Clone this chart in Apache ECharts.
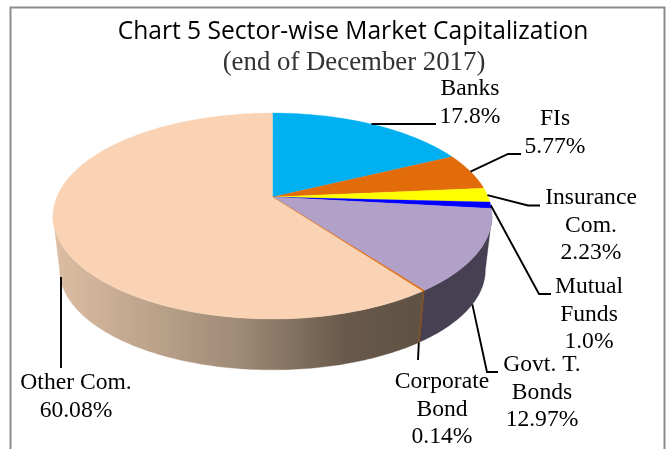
<!DOCTYPE html>
<html>
<head>
<meta charset="utf-8">
<style>
html, body { margin: 0; padding: 0; background: #fff; }
#myChart { width: 670px; height: 449px; }
</style>
<script src="https://cdn.jsdelivr.net/npm/echarts@6/dist/echarts.min.js"></script>
</head>
<body>
<div id="myChart"></div>
<script>
var titleMain = 'Chart 5 Sector-wise Market Capitalization';
var titleSub = '(end of December 2017)';
var sectors = ['Banks', 'FIs', 'Insurance Com.', 'Mutual Funds', 'Govt. T. Bonds', 'Corporate Bond', 'Other Com.'];
var shares = [17.8, 5.77, 2.23, 1.0, 12.97, 0.14, 60.08];
var shareLabels = ['17.8%', '5.77%', '2.23%', '1.0%', '12.97%', '0.14%', '60.08%'];

var topColors = ['#00B0F0', '#E26B0A', '#FFFF00', '#0000FF', '#B1A0C7', '#E26B0A', '#FAD3B4'];

// label lines, centre x, first line y, and leader line for each slice
var labelLayout = [
    { lines: ['Banks'], x: 470, y: 89, leader: [[436, 124]], rim: 'top' },
    { lines: ['FIs'], x: 555, y: 119, leader: [[508, 154], [521, 154]], rim: 'top' },
    { lines: ['Insurance', 'Com.'], x: 591, y: 198, leader: [[528, 205.5], [540, 205.5]], rim: 'top' },
    { lines: ['Mutual', 'Funds'], x: 589, y: 287, leader: [[539, 294], [551, 294]], rim: 'top' },
    { lines: ['Govt. T.', 'Bonds'], x: 542, y: 365, leader: [[487, 372], [498, 372]], rim: 'bottom' },
    { lines: ['Corporate', 'Bond'], x: 442, y: 382, leader: [[418, 360]], rim: 'bottom' },
    { lines: ['Other Com.'], x: 76, y: 383, leader: [[61, 277], [61, 368]] }
];

// pie geometry, a tilted circle with a little perspective
var cx = 272.5, cy = 197;
var radX = 215.7, radY = 99.5, persp = 0.1845;
var wallDrop = 54.5, wallScale = 0.97;
// the wall only shows between the two widest points of the rim
var wallFrom = Math.acos(-persp), wallTo = Math.PI * 2 - wallFrom;

var total = shares.reduce(function (a, b) { return a + b; }, 0);

function rimPoint(theta, bottom) {
    var u = Math.sin(theta), v = -Math.cos(theta);
    var d = 1 - persp * v;
    var x = radX * u / d, y = radY * v / d;
    if (bottom) {
        return [cx + x * wallScale, cy + wallDrop + y * wallScale];
    }
    return [cx + x, cy + y];
}

function arcPoints(a0, a1, bottom) {
    var n = Math.max(2, Math.ceil((a1 - a0) * 60));
    var pts = [];
    for (var j = 0; j <= n; j++) {
        pts.push(rimPoint(a0 + (a1 - a0) * j / n, bottom));
    }
    return pts;
}

function wallFill(i) {
    if (i == 6) {
        return {
            type: 'linear', x: 53, y: 0, x2: 420, y2: 0, global: true,
            colorStops: [
                { offset: 0, color: '#DCBEA3' },
                { offset: 0.5, color: '#A08B77' },
                { offset: 0.8, color: '#68594A' },
                { offset: 1, color: '#5F5244' }
            ]
        };
    }
    if (i == 5) return '#7A4A20';
    return '#474053';
}

function renderSlice(params, api) {
    var i = params.dataIndex;
    var before = 0;
    for (var k = 0; k < i; k++) before += shares[k];
    var a0 = before / total * Math.PI * 2;
    var a1 = (before + api.value(0)) / total * Math.PI * 2;
    var children = [];
    // side wall
    var w0 = Math.max(a0, wallFrom), w1 = Math.min(a1, wallTo);
    if (w1 > w0) {
        var fill = wallFill(i);
        children.push({
            type: 'polygon',
            z2: 1 + i,
            shape: { points: arcPoints(w0, w1).concat(arcPoints(w0, w1, true).reverse()) },
            style: { fill: fill, stroke: fill, lineWidth: i == 5 ? 0.8 : 0.3 }
        });
    }
    // top face
    children.push({
        type: 'polygon',
        z2: 20 + i,
        shape: { points: [[cx, cy]].concat(arcPoints(a0, a1)) },
        style: { fill: topColors[i], stroke: topColors[i], lineWidth: i == 5 ? 0.8 : 0.3 }
    });
    // leader line
    var lay = labelLayout[i];
    var pts = lay.leader.slice();
    if (lay.rim) pts.unshift(rimPoint((a0 + a1) / 2, lay.rim == 'bottom'));
    children.push({
        type: 'polyline',
        z2: 40,
        shape: { points: pts },
        style: { fill: null, stroke: '#000', lineWidth: 1.9 }
    });
    // label text
    var lines = lay.lines.concat([shareLabels[i]]);
    lines.forEach(function (s, idx) {
        children.push({
            type: 'text',
            z2: 50,
            style: {
                x: lay.x, y: lay.y + idx * 27.4, text: s,
                fill: '#000', align: 'center', verticalAlign: 'middle',
                font: '23.6px "Liberation Serif"'
            }
        });
    });
    return { type: 'group', children: children };
}

var myChart = echarts.init(document.getElementById('myChart'));
var option = {
    animation: false,
    backgroundColor: '#fff',
    title: [{
        text: titleMain,
        left: 348, top: 14, textAlign: 'center',
        textStyle: { fontFamily: 'Open Sans', fontSize: 24.6, fontWeight: 'normal', color: '#000' }
    }, {
        text: titleSub,
        left: 349, top: 44, textAlign: 'center',
        textStyle: { fontFamily: 'Liberation Serif', fontSize: 26.8, fontWeight: 'normal', color: '#333' }
    }],
    graphic: [{
        type: 'rect',
        shape: { x: 10.5, y: 7.5, width: 654, height: 470 },
        style: { fill: null, stroke: '#8C8C8C', lineWidth: 2 }
    }],
    series: [{
        type: 'custom',
        coordinateSystem: 'none',
        silent: true,
        renderItem: renderSlice,
        data: shares.map(function (v, i) { return { name: sectors[i], value: v }; })
    }]
};
myChart.setOption(option);
</script>
</body>
</html>
